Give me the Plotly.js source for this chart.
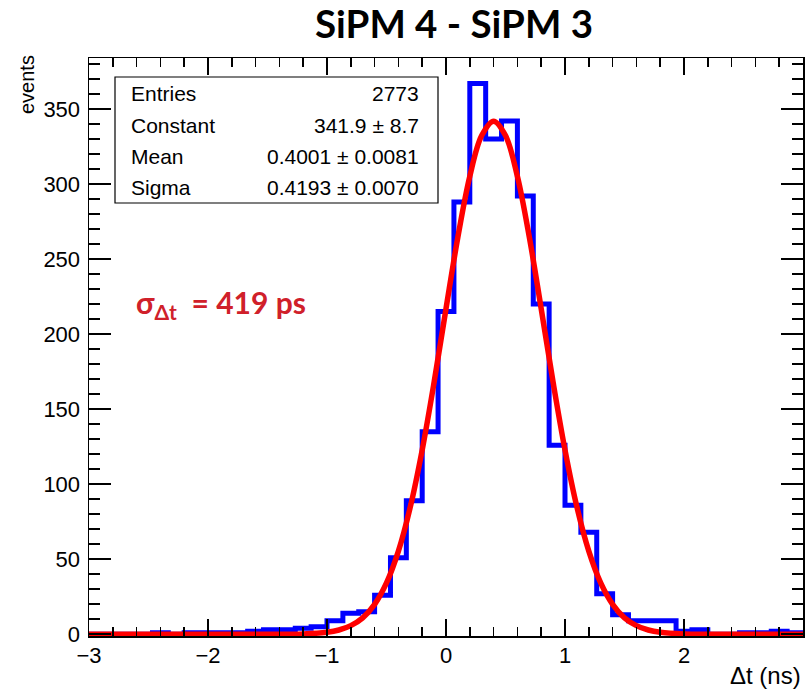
<!DOCTYPE html>
<html>
<head>
<meta charset="utf-8">
<script src="https://cdn.plot.ly/plotly-3.0.1.min.js"></script>
<style>html,body{margin:0;padding:0;background:#fff;}#chart{width:805px;height:690px;}</style>
</head>
<body>
<div id="chart"></div>
<script>
// Histogram: 45 bins from -3 to 3 ns
const binLow = -3;
const binHigh = 3;
const counts = [0,0,0,0,1,0,1,1,1,1,2,3,3,4,5,
                9,14,15,26,51,89,135,215,288,367,330,342,292,220,126,
                86,68,27,13,9,9,9,2,3,0,0,1,1,2,1];
// Gaussian fit curve
const fitX = [-3,-2,-1.5,-1.2,-1.0,-0.9,-0.8,-0.7,-0.6,-0.5,-0.4,-0.3,-0.2,-0.1,0,0.1,0.2,0.3,0.4,0.5,0.6,0.7,0.8,0.9,1.0,1.1,1.2,1.3,1.4,1.5,1.6,1.7,1.8,2.0,2.2,2.5,3.0];
const fitY = [0,0,0,0.2,1.3,2.8,5.7,10.9,19.9,34.2,55.4,84.8,122.8,167.9,216.9,264.7,305.1,332.3,341.9,332.3,305.1,264.7,216.9,167.9,122.8,84.8,55.4,34.2,19.9,10.9,5.7,2.8,1.3,0.2,0,0,0];
// Stats box
const statLabels = ["Entries","Constant","Mean","Sigma"];
const statValues = ["2773","341.9 \u00b1 8.7","0.4001 \u00b1 0.0081","0.4193 \u00b1 0.0070"];
const xTickVals = [-3,-2,-1,0,1,2,3];
const yTickVals = [0,50,100,150,200,250,300,350];

const nb = counts.length;
const w = (binHigh - binLow) / nb;
const edges = [];
for (let i = 0; i <= nb; i++) edges.push(binLow + i * w);
const stepY = counts.concat([counts[nb - 1]]);

const FONT = 'Liberation Sans, Arial, sans-serif';

const traces = [
  {x: edges, y: stepY, type: 'scatter', mode: 'lines', line: {shape: 'hv', color: '#0000ff', width: 5}, hoverinfo: 'skip'},
  {x: fitX, y: fitY, type: 'scatter', mode: 'lines', line: {shape: 'spline', smoothing: 1, color: '#ff0000', width: 5.5}, hoverinfo: 'skip'}
];

const pl = 89, pr = 2, pt = 58, pb = 54;
const W = 805, H = 690;
const pw = W - pl - pr, ph = H - pt - pb;
const px = v => (v - pl) / pw;
const py = v => (H - pb - v) / ph;

const annotations = [];
const rowY = [93, 125, 156.5, 187];
statLabels.forEach((s, i) => {
  annotations.push({xref: 'paper', yref: 'paper', x: px(129), y: py(rowY[i]), xanchor: 'left', yanchor: 'middle', text: s, showarrow: false, font: {family: FONT, size: 21, color: '#000'}});
  annotations.push({xref: 'paper', yref: 'paper', x: px(421), y: py(rowY[i]), xanchor: 'right', yanchor: 'middle', text: statValues[i], showarrow: false, font: {family: FONT, size: 21, color: '#000'}});
});
annotations.push({xref: 'paper', yref: 'paper', x: px(27), y: py(85), xanchor: 'center', yanchor: 'middle', textangle: -90, text: 'events', showarrow: false, font: {family: FONT, size: 20, color: '#000'}});
annotations.push({xref: 'paper', yref: 'paper', x: 1, y: py(675), xanchor: 'right', yanchor: 'middle', text: '\u0394t (ns)', showarrow: false, font: {family: FONT, size: 24, color: '#000'}});
annotations.push({xref: 'paper', yref: 'paper', x: px(134), y: py(304), xanchor: 'left', yanchor: 'middle', text: '\u03c3<sub>\u0394t</sub>  = 419 ps', showarrow: false, font: {family: 'Lato, sans-serif', size: 30, color: '#d0202a', weight: 'bold'}});

const layout = {
  width: W, height: H,
  margin: {l: pl, r: pr, t: pt, b: pb},
  paper_bgcolor: '#fff', plot_bgcolor: '#fff',
  showlegend: false,
  title: {text: '<b>SiPM 4 - SiPM 3</b>', x: 454 / W, xref: 'container', xanchor: 'center', y: 1 - 25 / H, yref: 'container', yanchor: 'middle', font: {family: 'Lato, sans-serif', size: 38.5, color: '#000'}},
  xaxis: {range: [binLow, binHigh], tickvals: xTickVals, ticks: 'inside', ticklen: 17, tickwidth: 1.5, tickcolor: '#000',
          showline: true, linecolor: '#000', linewidth: 1.5, mirror: 'allticks', showgrid: false, zeroline: false,
          tickfont: {family: FONT, size: 22, color: '#000'}, ticklabelstandoff: -1,
          minor: {dtick: 0.2, tick0: 0, ticks: 'inside', ticklen: 9, tickwidth: 1.5, tickcolor: '#000', showgrid: false}},
  yaxis: {range: [-1.2, 384], tickvals: yTickVals, ticks: 'inside', ticklen: 22, tickwidth: 1.5, tickcolor: '#000',
          showline: true, linecolor: '#000', linewidth: 1.5, mirror: 'allticks', showgrid: false, zeroline: false,
          tickfont: {family: FONT, size: 22, color: '#000'}, ticklabelstandoff: 3,
          minor: {dtick: 10, tick0: 0, ticks: 'inside', ticklen: 11, tickwidth: 1.5, tickcolor: '#000', showgrid: false}},
  shapes: [{type: 'rect', xref: 'paper', yref: 'paper', x0: px(115), x1: px(438), y0: py(203), y1: py(77), line: {color: '#000', width: 1.2}, fillcolor: '#fff', layer: 'above'}],
  annotations: annotations
};

Plotly.newPlot('chart', traces, layout, {staticPlot: true, displayModeBar: false});
</script>
</body>
</html>
